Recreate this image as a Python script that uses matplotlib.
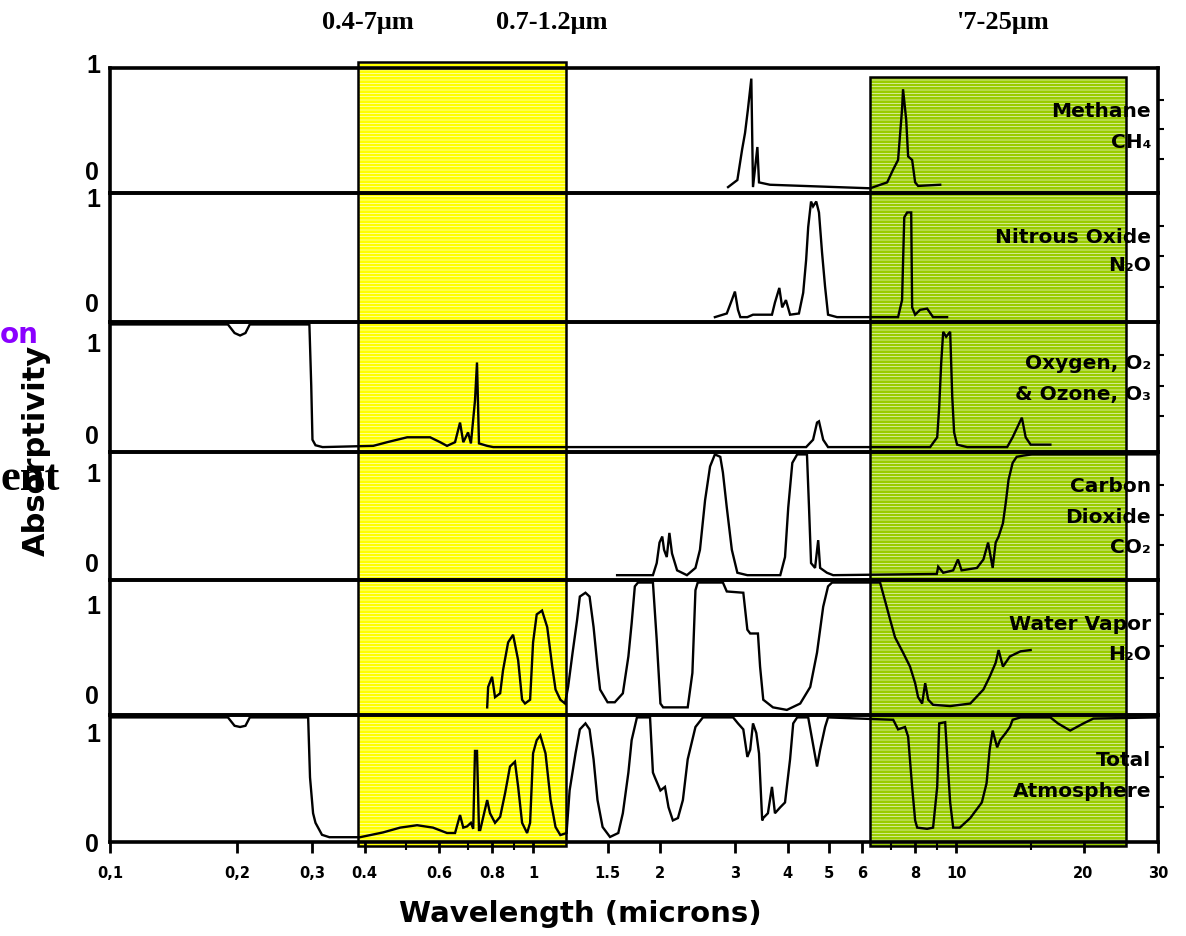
import matplotlib
matplotlib.use("Agg")
import matplotlib.pyplot as plt
from matplotlib.patches import Rectangle
from matplotlib.transforms import blended_transform_factory
from matplotlib.ticker import FixedLocator, FixedFormatter, NullLocator, NullFormatter

# ---------------- data (wavelength in microns, absorptivity 0..1) ----------------
ch4_wl = [2.89, 3.04, 3.12, 3.17, 3.22, 3.28, 3.31, 3.39, 3.42, 3.63, 4.35, 6.26,
          6.87, 7.10, 7.29, 7.45, 7.49, 7.62, 7.70, 7.87, 8.00, 8.13, 9.17]
ch4_ab = [0.01, 0.07, 0.33, 0.47, 0.67, 0.93, 0.01, 0.35, 0.05, 0.03, 0.02, 0.0,
          0.05, 0.16, 0.24, 0.67, 0.84, 0.58, 0.27, 0.24, 0.05, 0.02, 0.03]

n2o_wl = [2.69, 2.87, 2.95, 3.00, 3.05, 3.09, 3.21, 3.31, 3.67, 3.73, 3.82, 3.88,
          3.96, 4.05, 4.25, 4.35, 4.42, 4.47, 4.54, 4.59, 4.67, 4.74, 4.82, 4.90,
          4.98, 5.23, 7.29, 7.45, 7.54, 7.66, 7.83, 7.87, 8.00, 8.22, 8.54, 8.82, 9.52]
n2o_ab = [0.0, 0.03, 0.14, 0.21, 0.06, 0.0, 0.0, 0.02, 0.02, 0.12, 0.24, 0.08,
          0.14, 0.02, 0.03, 0.20, 0.47, 0.74, 0.95, 0.91, 0.95, 0.86, 0.53, 0.25,
          0.02, 0.0, 0.0, 0.14, 0.82, 0.86, 0.86, 0.08, 0.02, 0.06, 0.07, 0.0, 0.0]

o3_wl = [0.1, 0.19, 0.197, 0.203, 0.209, 0.214, 0.296, 0.299, 0.301, 0.306, 0.318,
         0.419, 0.452, 0.504, 0.571, 0.603, 0.626, 0.654, 0.672, 0.684, 0.702, 0.713,
         0.729, 0.737, 0.745, 0.779, 0.805, 4.42, 4.59, 4.69, 4.74, 4.85, 4.98,
         8.68, 9.02, 9.12, 9.22, 9.32, 9.47, 9.68, 9.79, 9.89, 10.05, 10.62,
         13.2, 13.6, 14.3, 14.6, 15.0, 16.7]
o3_ab = [1.0, 1.0, 0.93, 0.91, 0.93, 1.0, 1.0, 0.5, 0.06, 0.015, 0.0,
         0.01, 0.04, 0.08, 0.08, 0.04, 0.01, 0.04, 0.20, 0.04, 0.12, 0.03,
         0.38, 0.69, 0.03, 0.01, 0.0, 0.0, 0.06, 0.20, 0.21, 0.06, 0.0,
         0.0, 0.08, 0.33, 0.69, 0.94, 0.90, 0.94, 0.41, 0.12, 0.02, 0.0,
         0.0, 0.08, 0.24, 0.08, 0.02, 0.02]

co2_wl = [1.58, 1.92, 1.96, 1.99, 2.02, 2.04, 2.07, 2.10, 2.13, 2.19, 2.31, 2.42,
          2.48, 2.55, 2.62, 2.69, 2.77, 2.81, 2.87, 2.95, 3.04, 3.21, 3.84, 3.94,
          4.01, 4.10, 4.21, 4.44, 4.49, 4.54, 4.64, 4.72, 4.77, 4.95, 5.12, 9.0,
          9.07, 9.32, 9.84, 10.1, 10.3, 11.2, 11.6, 11.9, 12.2, 12.4, 12.6, 12.9,
          13.1, 13.3, 13.6, 13.9, 14.4, 15.1, 30.0]
co2_ab = [0.0, 0.0, 0.10, 0.27, 0.32, 0.21, 0.15, 0.35, 0.18, 0.04, 0.0, 0.06,
          0.21, 0.62, 0.90, 1.0, 0.98, 0.85, 0.56, 0.21, 0.02, 0.0, 0.0, 0.15,
          0.56, 0.93, 1.0, 1.0, 0.56, 0.10, 0.06, 0.29, 0.06, 0.02, 0.0, 0.01,
          0.07, 0.02, 0.04, 0.13, 0.04, 0.06, 0.13, 0.27, 0.06, 0.27, 0.32, 0.43,
          0.60, 0.79, 0.93, 0.98, 0.99, 1.0, 1.0]

h2o_wl = [0.779, 0.783, 0.800, 0.813, 0.836, 0.849, 0.873, 0.897, 0.922, 0.942,
          0.957, 0.984, 1.00, 1.02, 1.05, 1.08, 1.11, 1.13, 1.16, 1.19, 1.21, 1.24,
          1.27, 1.29, 1.33, 1.36, 1.39, 1.42, 1.44, 1.50, 1.56, 1.63, 1.68, 1.71,
          1.74, 1.77, 1.92, 1.96, 2.00, 2.03, 2.32, 2.38, 2.42, 2.45, 2.81, 2.87,
          3.14, 3.21, 3.26, 3.40, 3.44, 3.50, 3.69, 3.98, 4.28, 4.52, 4.69, 4.85,
          4.98, 5.09, 6.61, 6.80, 6.98, 7.17, 7.49, 7.78, 8.00, 8.13, 8.31, 8.45,
          8.59, 8.82, 9.68, 10.8, 11.6, 12.0, 12.4, 12.6, 12.9, 13.4, 14.2, 15.0]
h2o_ab = [0.02, 0.18, 0.26, 0.10, 0.13, 0.31, 0.53, 0.59, 0.39, 0.08,
          0.05, 0.08, 0.53, 0.75, 0.78, 0.65, 0.34, 0.16, 0.08, 0.05, 0.18, 0.45,
          0.70, 0.89, 0.92, 0.89, 0.65, 0.34, 0.16, 0.06, 0.06, 0.13, 0.42, 0.68,
          0.97, 1.0, 1.0, 0.55, 0.05, 0.02, 0.02, 0.29, 0.94, 1.0, 1.0, 0.93,
          0.92, 0.63, 0.60, 0.60, 0.34, 0.08, 0.02, 0.0, 0.05, 0.18, 0.45, 0.81,
          0.97, 1.0, 1.0, 0.85, 0.71, 0.57, 0.45, 0.34, 0.21, 0.10, 0.05, 0.21,
          0.08, 0.04, 0.03, 0.05, 0.16, 0.26, 0.37, 0.47, 0.34, 0.42, 0.46, 0.47]

tot_wl = [0.1, 0.19, 0.197, 0.203, 0.209, 0.214, 0.294, 0.297, 0.302, 0.306, 0.317,
          0.33, 0.39, 0.442, 0.485, 0.532, 0.580, 0.626, 0.654, 0.672, 0.684, 0.698,
          0.713, 0.722, 0.729, 0.737, 0.745, 0.750, 0.779, 0.791, 0.813, 0.836, 0.859,
          0.882, 0.906, 0.922, 0.942, 0.968, 0.984, 1.00, 1.02, 1.04, 1.07, 1.10,
          1.13, 1.16, 1.20, 1.22, 1.26, 1.29, 1.33, 1.36, 1.39, 1.42, 1.46, 1.52,
          1.59, 1.63, 1.68, 1.71, 1.76, 1.89, 1.92, 1.94, 2.00, 2.05, 2.09, 2.14,
          2.20, 2.26, 2.32, 2.42, 2.52, 2.97, 3.05, 3.14, 3.21, 3.26, 3.31, 3.37,
          3.42, 3.48, 3.50, 3.59, 3.67, 3.73, 3.84, 3.94, 4.05, 4.12, 4.21, 4.47,
          4.57, 4.69, 4.77, 4.90, 4.98, 7.10, 7.29, 7.57, 7.70, 7.87, 8.00, 8.09,
          8.54, 8.82, 9.02, 9.12, 9.42, 9.57, 9.68, 9.84, 10.2, 10.8, 11.5, 11.8,
          12.0, 12.2, 12.5, 12.7, 13.1, 13.4, 13.6, 14.2, 16.7, 17.4, 18.6, 20.0,
          21.1, 30.0]
tot_ab = [1.0, 1.0, 0.93, 0.92, 0.93, 1.0, 1.0, 0.5, 0.2, 0.12, 0.02,
          0.0, 0.0, 0.04, 0.08, 0.10, 0.08, 0.035, 0.035, 0.185, 0.08, 0.09,
          0.12, 0.07, 0.72, 0.72, 0.06, 0.06, 0.31, 0.20, 0.12, 0.17, 0.37,
          0.59, 0.63, 0.42, 0.12, 0.035, 0.12, 0.70, 0.81, 0.85, 0.70, 0.31,
          0.085, 0.018, 0.035, 0.39, 0.70, 0.90, 0.95, 0.90, 0.65, 0.31, 0.085, 0.002,
          0.035, 0.20, 0.54, 0.81, 1.0, 1.0, 0.54, 0.50, 0.39, 0.42, 0.25, 0.14,
          0.16, 0.31, 0.65, 0.92, 1.0, 1.0, 0.95, 0.90, 0.67, 0.73, 0.95, 0.87,
          0.70, 0.14, 0.16, 0.20, 0.42, 0.20, 0.25, 0.29, 0.65, 0.95, 1.0, 1.0,
          0.81, 0.59, 0.73, 0.92, 1.0, 0.98, 0.90, 0.92, 0.84, 0.42, 0.14, 0.08,
          0.07, 0.08, 0.42, 0.95, 0.96, 0.56, 0.29, 0.08, 0.08, 0.16, 0.29, 0.45,
          0.73, 0.89, 0.75, 0.81, 0.87, 0.92, 0.98, 1.0, 1.0, 0.95, 0.89, 0.95,
          0.99, 1.0]

series_wl = [ch4_wl, n2o_wl, o3_wl, co2_wl, h2o_wl, tot_wl]
series_ab = [ch4_ab, n2o_ab, o3_ab, co2_ab, h2o_ab, tot_ab]

gas_labels = [["Methane", "CH₄"], ["Nitrous Oxide", "N₂O"],
              ["Oxygen, O₂", "& Ozone, O₃"], ["Carbon", "Dioxide", "CO₂"],
              ["Water Vapor", "H₂O"], ["Total", "Atmosphere"]]

band_yellow = (0.386, 1.197)
band_green = (6.26, 25.2)
band_titles = ["0.4-7μm", "0.7-1.2μm", "'7-25μm"]

x_major = [0.1, 0.2, 0.3, 0.4, 0.6, 0.8, 1, 1.5, 2, 3, 4, 5, 6, 8, 10, 20, 30]
x_major_labels = ["0,1", "0,2", "0,3", "0.4", "0.6", "0.8", "1", "1.5", "2", "3",
                  "4", "5", "6", "8", "10", "20", "30"]
x_minor = [0.5, 0.7, 0.9, 7, 9, 15]

# ---------------- layout ----------------
W, H = 1186, 936
plt.rcParams['hatch.linewidth'] = 2.0
fig = plt.figure(figsize=(W / 100, H / 100), dpi=100)
fig.patch.set_facecolor("white")


def fx(px):
    return px / W


def fy(py):
    return 1 - py / H


panel_px = [(68, 193), (193, 322), (322, 452), (452, 580), (580, 715), (715, 842)]
x0px, x1px = 110, 1158

axes = []
for i, (top, bot) in enumerate(panel_px):
    ax = fig.add_axes([fx(x0px), fy(bot), (x1px - x0px) / W, (bot - top) / H])
    ax.set_facecolor("none")
    ax.set_xscale("log")
    ax.set_xlim(0.1, 30)
    ax.set_ylim(-0.04, 1.02)
    for sp in ax.spines.values():
        sp.set_linewidth(2.6)
        sp.set_color("black")
    ax.plot(series_wl[i], series_ab[i], color="black", lw=1.7,
            solid_joinstyle="miter", zorder=3)
    ax.yaxis.set_major_locator(FixedLocator([0.25, 0.5, 0.75]))
    ax.yaxis.set_minor_locator(NullLocator())
    ax.tick_params(axis="y", which="both", left=False, right=True, labelleft=False,
                   labelright=False, direction="out", length=4, width=1.5)
    if i < len(panel_px) - 1:
        ax.xaxis.set_major_locator(NullLocator())
        ax.xaxis.set_minor_locator(NullLocator())
        ax.tick_params(axis="x", which="both", bottom=False, labelbottom=False)
    axes.append(ax)

axb = axes[-1]
axb.xaxis.set_major_locator(FixedLocator(x_major))
axb.xaxis.set_major_formatter(FixedFormatter(x_major_labels))
axb.xaxis.set_minor_locator(FixedLocator(x_minor))
axb.xaxis.set_minor_formatter(NullFormatter())
axb.tick_params(axis="x", which="major", direction="out", length=8, width=2, pad=9,
                labelsize=10.5)
axb.tick_params(axis="x", which="minor", direction="out", length=6, width=1.5)
for lab in axb.get_xticklabels():
    lab.set_fontweight("bold")
    lab.set_family("DejaVu Sans")

# ---------------- hatched bands ----------------
btr = blended_transform_factory(axb.transData, fig.transFigure)
for (lo, hi), col, ytop, ybot in [(band_yellow, "#ffff00", 62, 846),
                                  (band_green, "#99cc00", 77, 846)]:
    fill = Rectangle((lo, fy(ybot)), hi - lo, fy(ytop) - fy(ybot), transform=btr,
                     facecolor="white", edgecolor=col, linewidth=0, hatch="-----",
                     zorder=-2)
    fig.add_artist(fill)
    border = Rectangle((lo, fy(ybot)), hi - lo, fy(ytop) - fy(ybot), transform=btr,
                       facecolor="none", edgecolor="black", linewidth=1.8, zorder=-1)
    fig.add_artist(border)

# ---------------- 0 / 1 labels ----------------
one_y = [66, 200, 345, 475, 607, 735]
zero_y = [173, 305, 437, 565, 697, 845]
for y1, y0 in zip(one_y, zero_y):
    fig.text(fx(93), fy(y1), "1", ha="center", va="center", fontsize=18,
             fontweight="bold", family="Liberation Sans")
    fig.text(fx(92), fy(y0), "0", ha="center", va="center", fontsize=18,
             fontweight="bold", family="Liberation Sans")

# ---------------- gas labels ----------------
label_baselines = [[117, 148], [243, 271], [369, 400], [492, 523, 553],
                   [630, 660], [766, 797]]
for lines, bases in zip(gas_labels, label_baselines):
    for txt, b in zip(lines, bases):
        fig.text(fx(1151), fy(b), txt, ha="right", va="baseline", fontsize=14.5,
                 fontweight="bold", family="DejaVu Sans", zorder=5)

# ---------------- axis titles ----------------
fig.text(fx(580), fy(914), "Wavelength (microns)", ha="center", va="center",
         fontsize=21, fontweight="bold", family="DejaVu Sans")
fig.text(fx(36), fy(450), "Absorptivity", ha="center", va="center", rotation=90,
         fontsize=22, fontweight="bold", family="DejaVu Sans")

# ---------------- top band titles ----------------
for t, xc in zip(band_titles, [368, 552, 1003]):
    fig.text(fx(xc), fy(23), t, ha="center", va="center", fontsize=19,
             fontweight="bold", family="Liberation Serif")

# ---------------- cut-off fragments on the left ----------------
fig.text(0, fy(343), "on", ha="left", va="baseline", fontsize=20,
         fontweight="bold", family="DejaVu Sans", color="#8a00ff")
fig.text(0, fy(490), "ent", ha="left", va="baseline", fontsize=32,
         fontweight="bold", family="Liberation Serif", color="black")

fig.savefig("out.png", dpi=100, facecolor="white")
